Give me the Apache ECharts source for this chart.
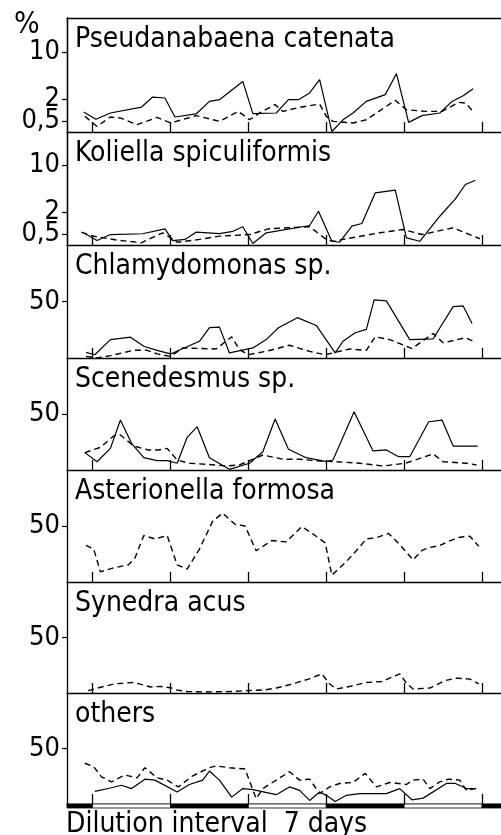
<!DOCTYPE html>
<html>
<head>
<meta charset="utf-8">
<script src="https://cdn.jsdelivr.net/npm/echarts@6/dist/echarts.min.js"></script>
<style>
  html, body { margin: 0; padding: 0; background: #ffffff; }
  #chart { width: 501px; height: 835px; }
</style>
</head>
<body>
<div id="chart"></div>
<script>
// panel titles, top to bottom
var panelNames = ['Pseudanabaena catenata', 'Koliella spiculiformis', 'Chlamydomonas sp.',
  'Scenedesmus sp.', 'Asterionella formosa', 'Synedra acus', 'others'];
// dilution every 7 days
var dilutionDays = [0, 7, 14, 21, 28, 35];
var logTicks = [0.5, 2, 10];
var logTickLabels = ['0,5', '2', '10'];
var linTicks = [50];
var linTickLabels = ['50'];

// [day, %]
var pseudSolid = [[-0.8,1.0],[0.3,0.58],[1.6,0.94],[4.4,1.34],[5.4,2.17],[6.5,2.08],[7.4,0.70],[9.3,0.88],[10.5,1.78],[11.4,1.93],[13.5,3.97],[14.4,0.90],[16.5,0.94],[17.6,1.93],[18.5,1.93],[19.5,2.57],[20.4,4.22],[21.5,0.02],[22.5,0.55],[23.4,0.94],[24.6,1.78],[26.3,2.40],[27.3,5.17],[28.4,0.42],[29.6,0.78],[31.2,0.94],[32.3,1.78],[33.3,2.30],[34.2,3.04]];
var pseudDashed = [[-0.7,0.74],[0.4,0.23],[1.6,0.70],[2.5,0.65],[4.0,0.31],[5.8,0.68],[7.0,0.39],[9.3,0.78],[11.4,0.47],[13.1,1.04],[14.1,0.55],[15.0,0.94],[16.4,1.52],[17.1,1.04],[18.5,1.30],[20.4,1.57],[21.0,0.74],[21.6,0.47],[23.4,0.39],[24.6,0.55],[27.2,1.87],[28.2,1.15],[30.0,1.04],[31.4,1.04],[32.9,1.70],[33.5,1.65],[34.2,1.04]];
var kolSolid = [[-0.7,0.51],[0.4,0.18],[1.6,0.46],[4.5,0.50],[6.5,0.77],[7.2,0.18],[8.3,0.23],[9.3,0.58],[11.4,0.51],[12.6,0.63],[13.5,0.89],[14.4,0.06],[15.6,0.55],[19.5,0.97],[20.3,2.06],[21.5,0.15],[22.2,0.11],[23.3,0.93],[24.2,1.10],[25.4,4.2],[27.2,4.6],[28.2,0.30],[29.4,0.15],[31.2,1.63],[32.6,3.39],[33.5,5.55],[34.4,6.37]];
var kolDashed = [[-1.0,0.58],[0.1,0.38],[2.2,0.20],[4.4,0.09],[6.3,0.55],[7.6,0.11],[9.6,0.23],[11.4,0.38],[14.1,0.46],[15.8,0.77],[19.5,0.89],[21.0,0.23],[21.6,0.15],[22.5,0.23],[25.8,0.55],[27.9,0.73],[29.6,0.46],[32.4,0.83],[34.8,0.26]];
var chlamySolid = [[-0.6,5.0],[0.2,2.9],[1.6,16.3],[3.4,18.4],[4.6,10.4],[5.8,6.8],[7.0,3.6],[9.6,14.8],[10.5,26.8],[11.4,27.3],[12.3,4.5],[14.4,8.9],[15.6,16.3],[16.7,26.8],[18.4,35.7],[20.1,28.8],[21.8,4.5],[22.5,14.8],[23.6,22.3],[24.6,25.3],[25.3,51.4],[26.4,50.5],[28.5,16.3],[30.6,17.0],[32.4,45.5],[33.3,46.1],[34.1,30.6]];
var chlamyDashed = [[-0.6,1.4],[0.4,0],[1.6,2.1],[3.7,6.8],[4.9,6.8],[5.8,3.6],[7.0,1.4],[8.1,8.9],[11.1,8.0],[12.5,18.8],[13.2,7.4],[14.0,2.9],[15.6,5.9],[17.7,11.3],[19.5,5.9],[20.9,2.9],[23.1,8.0],[24.6,6.8],[25.4,18.8],[26.7,16.3],[28.7,8.3],[30.6,21.7],[31.5,13.4],[33.5,17.9],[34.2,14.8]];
var scenSolid = [[-0.7,15.5],[0.4,7.4],[1.6,19.3],[2.5,44.6],[3.5,23.8],[4.6,11.0],[5.8,8.3],[6.7,8.3],[7.6,6.0],[8.5,29.2],[9.4,38.7],[10.5,11.0],[12.3,0.6],[14.1,6.0],[15.3,16.3],[16.4,45.5],[17.6,18.5],[19.2,11.0],[21.0,7.4],[21.6,8.9],[23.5,52.1],[25.2,17.0],[26.4,17.9],[27.5,11.9],[28.5,11.9],[30.2,43.1],[31.4,44.6],[32.4,21.4],[34.6,21.4]];
var scenDashed = [[-0.7,15.5],[0.7,20.2],[1.9,30.4],[2.5,31.3],[3.7,21.4],[5.0,17.9],[5.9,17.9],[6.7,19.3],[7.6,8.9],[8.7,6.0],[10.2,5.1],[12.0,3.6],[13.2,4.5],[15.3,13.4],[17.1,9.6],[18.6,9.6],[20.1,8.3],[21.9,7.4],[24.0,6.0],[26.1,3.6],[28.1,6.0],[30.6,14.3],[31.5,7.4],[33.6,6.0],[34.5,4.5]];
var asterDashed = [[-0.6,32.7],[0.1,29.4],[0.7,9.1],[1.9,12.7],[3.2,15.2],[3.8,21.3],[4.6,41.5],[5.6,38.5],[6.7,41.5],[7.6,15.2],[8.5,11.5],[9.6,29.4],[10.8,54.5],[11.7,61.5],[12.8,51.5],[13.7,50.0],[14.7,27.9],[16.1,37.0],[17.4,35.8],[18.8,49.5],[20.0,41.5],[20.9,34.9],[21.5,6.1],[22.8,18.2],[24.0,31.3],[24.6,38.5],[25.5,39.5],[26.6,43.4],[27.6,33.4],[28.8,19.7],[29.6,28.2],[30.3,30.9],[31.2,32.5],[32.0,36.4],[33.0,40.0],[33.9,40.9],[34.7,31.8]];
var synedraDashed = [[-0.4,2.1],[0.8,5.4],[2.0,8.3],[3.7,9.5],[5.2,5.4],[6.1,5.9],[7.1,4.5],[7.4,2.9],[8.5,1.4],[10.2,0.9],[12.6,1.4],[14.1,2.3],[15.6,2.9],[16.5,4.5],[17.7,7.4],[19.4,12.5],[20.6,17.2],[21.3,8.3],[21.9,3.6],[23.1,5.9],[24.6,9.5],[26.0,10.4],[27.6,17.2],[28.2,8.9],[28.8,3.6],[30.3,4.5],[31.7,11.3],[32.7,13.4],[33.9,12.5],[34.7,8.3]];
var othersSolid = [[0.2,11.4],[1.6,14.4],[2.6,16.9],[3.5,13.9],[4.7,22.4],[5.6,21.5],[7.6,10.8],[8.7,17.6],[9.9,21.5],[10.5,29.7],[11.4,21.5],[12.5,6.2],[13.5,13.9],[14.4,13.0],[16.5,8.4],[17.7,15.4],[18.6,12.3],[19.5,3.2],[20.4,10.8],[21.0,7.8],[21.8,2.3],[22.8,7.8],[24.0,9.3],[26.4,9.3],[27.6,13.9],[28.7,3.8],[29.7,5.3],[31.8,18.5],[32.6,18.5],[33.6,13.9],[34.2,13.9]];
var othersDashed = [[-0.7,36.7],[0.1,33.6],[0.8,24.5],[1.7,19.9],[2.9,26.1],[4.0,23.6],[4.7,32.7],[5.8,23.6],[6.7,21.5],[7.7,15.4],[9.0,25.4],[10.5,32.7],[11.1,34.3],[12.3,32.7],[13.7,31.5],[14.7,4.8],[15.3,13.9],[16.5,21.5],[17.7,29.1],[18.6,21.5],[19.5,22.4],[20.4,9.3],[21.3,15.4],[22.2,18.5],[23.4,19.4],[24.5,27.6],[25.5,15.4],[26.7,19.4],[28.2,17.6],[28.8,21.5],[29.7,22.4],[30.3,13.9],[31.2,19.9],[32.0,22.4],[33.0,21.5],[33.6,12.3],[34.7,14.4]];

var solidSets = [pseudSolid, kolSolid, chlamySolid, scenSolid, null, null, othersSolid];
var dashedSets = [pseudDashed, kolDashed, chlamyDashed, scenDashed, asterDashed, synedraDashed, othersDashed];

// layout (px)
var panelTop = [18, 132, 245, 358, 470, 582, 693, 804];
var plotLeft = 67;
var xMin = -2.3, xMax = 36.7;
var pxPerDecade = 90;
var textFont = "'DejaVu Sans Condensed', 'DejaVu Sans', sans-serif";

// the two top panels use a stretched log scale
function tf(v) { return Math.log10(v + 1.5); }

function yAxisFor(gridIndex, min, max, vals, labs) {
  return {
    gridIndex: gridIndex, type: 'value', position: 'left', offset: 0, min: min, max: max,
    axisLine: { show: true, onZero: false, lineStyle: { color: '#000', width: 1.3 } },
    axisTick: { show: true, length: 5, customValues: vals, lineStyle: { color: '#000', width: 1.2 } },
    axisLabel: {
      show: true, margin: 7, customValues: vals, hideOverlap: false,
      color: '#000', fontSize: 27, fontFamily: textFont,
      formatter: function (val) {
        var best = 0;
        for (var k = 1; k < vals.length; k++) {
          if (Math.abs(vals[k] - val) < Math.abs(vals[best] - val)) best = k;
        }
        return labs[best];
      }
    },
    splitLine: { show: false }
  };
}

var myCharts = echarts.init(document.getElementById('chart'), null, { renderer: 'canvas' });

var grids = [], xAxes = [], yAxes = [], series = [], titles = [];
var extraY = [];

for (var i = 0; i < 7; i++) {
  var h = panelTop[i + 1] - panelTop[i];
  var isLog = i < 2;
  grids.push({ left: plotLeft, right: 0, top: panelTop[i], height: h });
  xAxes.push({
    gridIndex: i, type: 'value', min: xMin, max: xMax,
    axisLine: { show: true, onZero: false, lineStyle: { color: '#000', width: 1.3 } },
    axisTick: { show: true, inside: true, length: 10, customValues: dilutionDays, lineStyle: { color: '#000', width: 1.3 } },
    axisLabel: { show: false },
    splitLine: { show: false }
  });
  if (isLog) {
    var yMin = tf(0), yMax = tf(0) + h / pxPerDecade;
    // "0,5" sits close to "2", so it gets its own axis to avoid label hiding
    yAxes.push(yAxisFor(i, yMin, yMax, logTicks.slice(1).map(tf), logTickLabels.slice(1)));
    extraY.push(yAxisFor(i, yMin, yMax, [tf(logTicks[0])], [logTickLabels[0]]));
  } else {
    yAxes.push(yAxisFor(i, 0, 100, linTicks, linTickLabels));
  }
  titles.push({
    text: panelNames[i], left: 75, top: panelTop[i] + 8, padding: 0,
    textStyle: { fontFamily: textFont, fontSize: 28, fontWeight: 'normal', color: '#000' }
  });
  var sets = [solidSets[i], dashedSets[i]];
  for (var s = 0; s < 2; s++) {
    if (!sets[s]) continue;
    series.push({
      type: 'line', xAxisIndex: i, yAxisIndex: i,
      symbol: 'none', silent: true,
      data: sets[s].map(function (p) { return [p[0], isLog ? tf(p[1]) : p[1]]; }),
      lineStyle: s === 0 ? { color: '#000', width: 1.2 } : { color: '#000', width: 1.4, type: [6, 4] }
    });
  }
}

// dilution bar under the last panel
var barSegs = [];
var edges = [xMin].concat(dilutionDays, [xMax]);
for (var j = 0; j < edges.length - 1; j++) {
  barSegs.push([edges[j], edges[j + 1], j % 2 === 0 ? 1 : 0]);
}
grids.push({ left: plotLeft, right: 0, top: 804, height: 4 });
xAxes.push({ gridIndex: 7, type: 'value', min: xMin, max: xMax, show: false });
yAxes.push({ gridIndex: 7, type: 'value', min: 0, max: 1, show: false });
yAxes = yAxes.concat(extraY);
series.push({
  type: 'custom', xAxisIndex: 7, yAxisIndex: 7, silent: true,
  data: barSegs,
  renderItem: function (params, api) {
    var x0 = api.coord([api.value(0), 0])[0];
    var x1 = api.coord([api.value(1), 0])[0];
    var cs = params.coordSys;
    return {
      type: 'rect',
      shape: { x: x0, y: cs.y, width: x1 - x0, height: cs.height },
      style: { fill: api.value(2) ? '#000' : '#fff', stroke: '#000', lineWidth: 0.8 }
    };
  }
});

// top frame line
xAxes.push({
  gridIndex: 0, type: 'value', position: 'top', min: xMin, max: xMax,
  axisLine: { show: true, onZero: false, lineStyle: { color: '#000', width: 1.3 } },
  axisTick: { show: false }, axisLabel: { show: false }, splitLine: { show: false }
});

titles.push({ text: '%', left: 14, top: 10, padding: 0,
  textStyle: { fontFamily: textFont, fontSize: 30, fontWeight: 'normal', color: '#000' } });
titles.push({ text: 'Dilution interval  7 days', left: 66, top: 811, padding: 0,
  textStyle: { fontFamily: textFont, fontSize: 28, fontWeight: 'normal', color: '#000' } });

var option = {
  backgroundColor: '#ffffff',
  animation: false,
  title: titles,
  grid: grids,
  xAxis: xAxes,
  yAxis: yAxes,
  series: series
};
myCharts.setOption(option);
</script>
</body>
</html>
